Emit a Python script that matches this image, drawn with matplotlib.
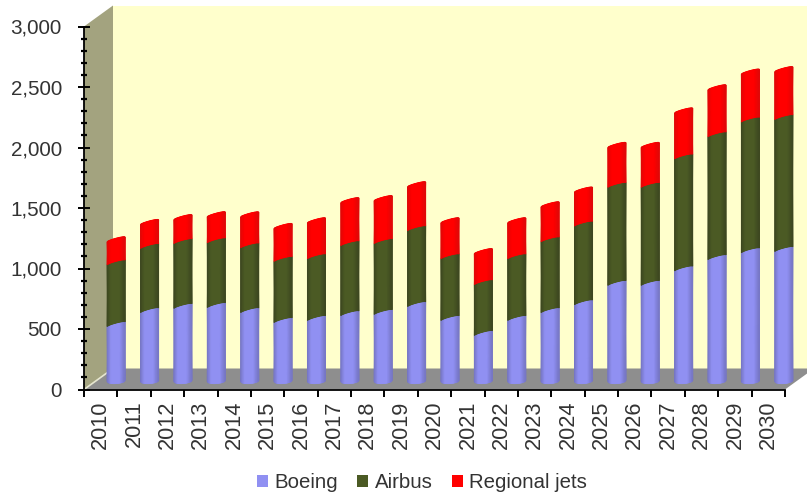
import numpy as np
import matplotlib
matplotlib.use("Agg")
import matplotlib.pyplot as plt
from matplotlib.colors import LinearSegmentedColormap
from matplotlib.patches import Patch, Polygon
from matplotlib.ticker import MultipleLocator, FuncFormatter

# -------- DATA --------
years = [str(y) for y in range(2010, 2031)]
boeing = [470, 585, 620, 627, 585, 503, 520, 560, 570, 635, 520,
          396, 520, 585, 650, 810, 810, 930, 1023, 1080, 1090]
airbus = [510, 530, 535, 535, 535, 505, 510, 578, 585, 627, 510,
          420, 510, 585, 650, 810, 810, 925, 1015, 1080, 1090]
regional = [190, 198, 198, 215, 256, 272, 297, 355, 355, 363, 297,
            256, 297, 289, 281, 330, 330, 380, 388, 396, 396]

labels = ["Boeing", "Airbus", "Regional jets"]
colors = ["#9090F2", "#4B5A24", "#FF0000"]
edges = ["#7676C4", "#3D4720", "#E00808"]

plt.rcParams["font.family"] = ["Liberation Sans", "DejaVu Sans"]

W, H = 807, 496
fig = plt.figure(figsize=(W / 100, H / 100), dpi=100)
ax = fig.add_axes([84 / W, (H - 389.5) / H, 701 / W, 363 / H])
ax.set_xlim(0, 21)
ax.set_ylim(0, 3000)
ax.patch.set_alpha(0)

# one pixel in data units
px = 21 / 701
py = 3000 / 363
dx, dy = 29 * px, 21 * py

# -------- 3D BOX --------
ax.add_patch(Polygon([(dx, dy), (22, dy), (22, 3000 + dy), (dx, 3000 + dy)],
                     fc="#FFFFCC", ec="none", clip_on=False, zorder=0))
ax.add_patch(Polygon([(0, 0), (dx, dy), (dx, 3000 + dy), (0, 3000)],
                     fc="#A3A37F", ec="none", clip_on=False, zorder=1))
ax.add_patch(Polygon([(0, 0), (21, 0), (21 + dx, dy), (dx, dy)],
                     fc="#8E8E8E", ec="none", clip_on=False, zorder=1))
ax.plot([0, dx * 0.8], [0, dy * 0.8], color="#E6E6D0", lw=1.2,
        clip_on=False, zorder=2)

# -------- CYLINDER STACKS --------
half = 9 * px
base = 8.5 * py
u = np.linspace(-1, 1, 25)
tilt = 2.4 * py * u + 1.2 * py * np.sqrt(1 - u**2)
foot = 0.6 * py * u - 2.5 * py * np.sqrt(1 - u**2)

bottom = np.zeros(len(years))
for k, vals in enumerate([boeing, airbus, regional]):
    cmap = LinearSegmentedColormap.from_list(
        labels[k], [(0, edges[k]), (0.22, colors[k]), (0.72, colors[k]), (1, edges[k])])
    for i, v in enumerate(vals):
        xc = i + 0.5 + 15.5 * px
        low = base + bottom[i] + (foot if k == 0 else tilt)
        high = base + bottom[i] + v + tilt
        X = np.vstack([xc + half * u, xc + half * u])
        Y = np.vstack([low, high])
        C = np.vstack([u, u])
        ax.pcolormesh(X, Y, C, cmap=cmap, vmin=-1, vmax=1, shading="gouraud",
                      clip_on=False, zorder=3 + k * 0.1)
    bottom += np.array(vals)

# -------- AXES --------
ax.set_xlim(0, 21)
ax.set_ylim(0, 3000)
for s in ["top", "right"]:
    ax.spines[s].set_visible(False)
for s in ["left", "bottom"]:
    ax.spines[s].set_linewidth(1.3)
    ax.spines[s].set_zorder(5)

ax.set_xticks(np.arange(0, 22))
ax.set_xticklabels([])
ax.set_xticks(np.arange(21) + 0.5, minor=True)
ax.set_xticklabels(years, minor=True, rotation=90, fontsize=15.7, color="#333333")
ax.tick_params(axis="x", which="major", length=5, width=1.4, direction="out")
ax.tick_params(axis="x", which="minor", length=0, pad=8)

ax.yaxis.set_major_locator(MultipleLocator(500))
ax.yaxis.set_minor_locator(MultipleLocator(100))
ax.yaxis.set_major_formatter(FuncFormatter(lambda v, p: f"{int(v):,}"))
ax.tick_params(axis="y", which="major", length=8, width=1.4, direction="inout",
               labelsize=14.9, labelcolor="#333333", pad=12)
ax.tick_params(axis="y", which="minor", length=4.5, width=1.6, direction="inout")

# -------- LEGEND --------
handles = [Patch(fc=c, ec="none") for c in colors]
fig.legend(handles, labels, ncol=3, frameon=False, fontsize=14.7,
           loc="center", bbox_to_anchor=(422 / W, (H - 483) / H),
           handlelength=0.55, handleheight=0.55, handletextpad=0.3,
           columnspacing=0.95, labelcolor="#333333", borderpad=0)

fig.savefig("out.png", dpi=100, facecolor="white")
